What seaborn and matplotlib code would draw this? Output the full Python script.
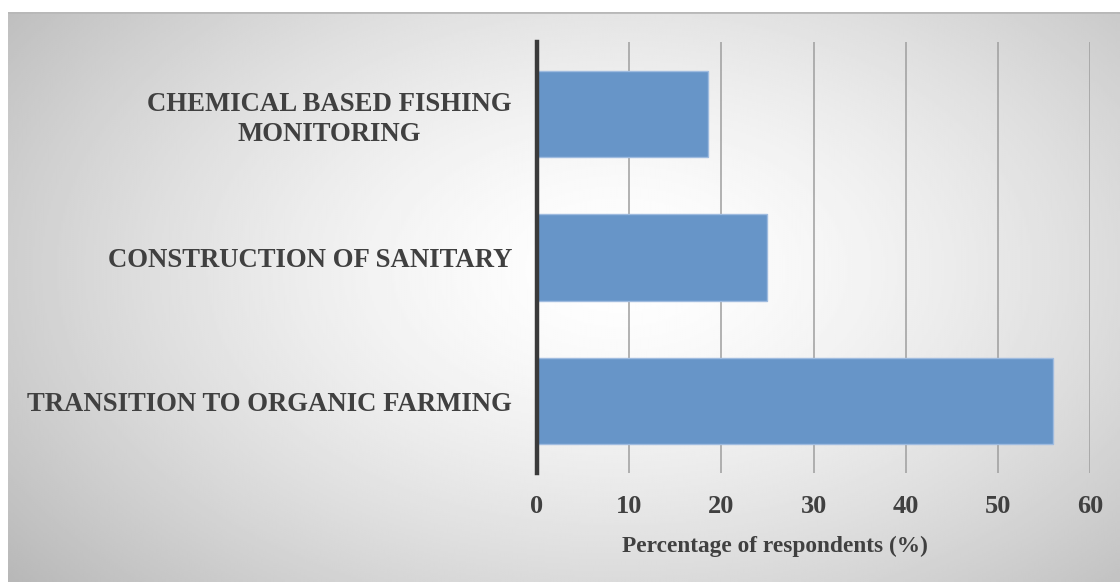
import numpy as np
import matplotlib
matplotlib.use("Agg")
import matplotlib.pyplot as plt
import seaborn as sns

# Survey results
categories = [
    "CHEMICAL BASED FISHING\nMONITORING",
    "CONSTRUCTION OF SANITARY",
    "TRANSITION TO ORGANIC FARMING",
]
percentages = [18.6, 25.0, 56.0]
x_ticks = [0, 10, 20, 30, 40, 50, 60]

sns.set_theme(style="white")
plt.rcParams["font.family"] = ["Liberation Serif", "DejaVu Serif"]
plt.rcParams["font.weight"] = "bold"

W, H = 1120, 582
fig = plt.figure(figsize=(W / 100, H / 100), dpi=100)
fig.patch.set_facecolor("white")

# Radial grey-to-white backdrop panel
bg = fig.add_axes([8 / W, 0, 1 - 8 / W, 1 - 12 / H])
bg.set_axis_off()
gx, gy = np.meshgrid(np.linspace(0, 1, 560), np.linspace(0, 1, 285))
cx, cy = 0.55, 0.45
r = np.sqrt(((gx - cx) / 0.66) ** 2 + ((gy - cy) / 0.8) ** 2)
shade = 1.0 - 0.25 * np.clip(r, 0, 1.25) ** 1.5
bg.imshow(shade, cmap="gray", vmin=0, vmax=1, aspect="auto",
          extent=[0, 1, 1, 0], interpolation="bilinear")
bg.set_xlim(0, 1)
bg.set_ylim(1, 0)
# thin darker rim along the top edge of the panel
bg.axhline(0.0, color="#b8b8b8", lw=2)

ax = fig.add_axes([537 / W, 1 - 473 / H, (1090 - 537) / W, (473 - 42) / H])
ax.patch.set_alpha(0)

sns.barplot(x=percentages, y=categories, orient="h", color="#6795c8",
            width=0.6, saturation=1, edgecolor="#9fbbdf", linewidth=1.0,
            ax=ax, zorder=3)

ax.set_xlim(0, 60)
ax.set_ylim(2.5, -0.5)
ax.set_xticks(x_ticks)
ax.set_xticklabels([str(t) for t in x_ticks])
ax.grid(axis="x", color="#9e9e9e", lw=1.1, zorder=1)
ax.set_axisbelow(True)

for s in ["top", "right", "bottom"]:
    ax.spines[s].set_visible(False)
ax.spines["left"].set_color("#3a3a3a")
ax.spines["left"].set_linewidth(3.2)
ax.spines["left"].set_zorder(5)

ax.tick_params(axis="both", length=0, colors="#404040")
ax.tick_params(axis="y", pad=18, labelsize=19.3)
ax.tick_params(axis="x", pad=16, labelsize=19)
for lab in ax.get_yticklabels():
    lab.set_fontweight("bold")
    lab.set_multialignment("center")
    lab.set_linespacing(1.25)
for lab in ax.get_xticklabels():
    lab.set_fontweight("bold")

ax.set_ylabel("")
ax.set_xlabel("Percentage of respondents (%)", fontsize=16.8,
              fontweight="bold", color="#404040", labelpad=11)
ax.xaxis.set_label_coords(0.43, -0.145)
ax.xaxis.label.set_va("top")

fig.savefig("out.png", dpi=100)
